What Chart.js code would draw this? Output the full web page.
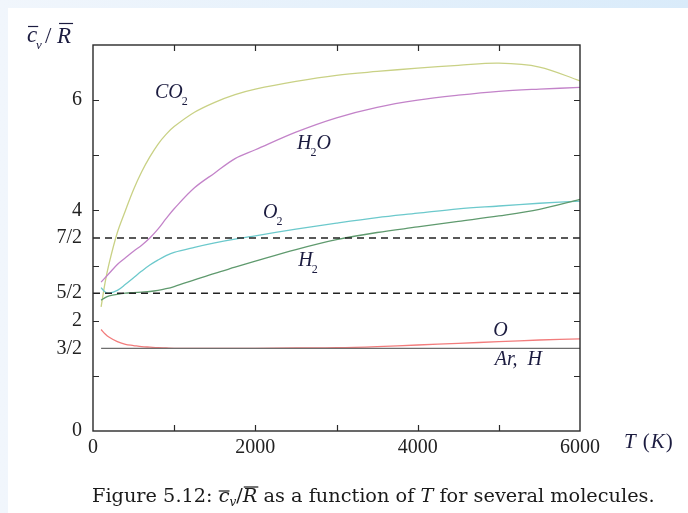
<!DOCTYPE html>
<html>
<head>
<meta charset="utf-8">
<script src="https://cdn.jsdelivr.net/npm/chart.js@4.4.1/dist/chart.umd.min.js"></script>
<style>
  html, body { margin: 0; padding: 0; }
  body {
    width: 688px; height: 513px; overflow: hidden; position: relative;
    background: linear-gradient(to right, #f1f6fc, #d9ebfa);
  }
  #paper { position: absolute; left: 8px; top: 8px; right: 0; bottom: 0; background: #ffffff; }
  #wrap { position: absolute; left: 0; top: 0; width: 688px; height: 513px; }
</style>
</head>
<body>
<div id="paper"></div>
<div id="wrap"><canvas id="chart" width="688" height="513"></canvas></div>
<script>
// temperature grid (K) shared by the molecule curves
const temps = [100, 150, 200, 300, 400, 500, 600, 700, 800, 900, 1000, 1250, 1500, 1750, 2000, 2500, 3000, 3500, 4000, 4500, 5000, 5500, 6000];

// cv/R
const co2   = [2.25, 2.7, 3.05, 3.6, 4.0, 4.38, 4.7, 4.97, 5.2, 5.38, 5.52, 5.78, 5.96, 6.1, 6.2, 6.34, 6.45, 6.52, 6.58, 6.63, 6.67, 6.6, 6.35];
const h2o   = [2.7, 2.78, 2.86, 3.02, 3.14, 3.26, 3.37, 3.5, 3.66, 3.85, 4.03, 4.41, 4.68, 4.94, 5.1, 5.42, 5.68, 5.87, 6.0, 6.09, 6.16, 6.2, 6.23];
const o2    = [2.6, 2.52, 2.5, 2.55, 2.66, 2.78, 2.9, 3.01, 3.1, 3.18, 3.24, 3.33, 3.41, 3.48, 3.54, 3.66, 3.77, 3.87, 3.95, 4.03, 4.08, 4.13, 4.17];
const h2    = [2.37, 2.42, 2.45, 2.48, 2.5, 2.51, 2.52, 2.53, 2.55, 2.58, 2.62, 2.74, 2.86, 2.97, 3.08, 3.29, 3.47, 3.6, 3.7, 3.8, 3.9, 4.02, 4.2];
const oAtom = [1.84, 1.76, 1.7, 1.62, 1.57, 1.55, 1.53, 1.52, 1.51, 1.505, 1.5, 1.5, 1.5, 1.5, 1.5, 1.505, 1.51, 1.53, 1.56, 1.59, 1.62, 1.65, 1.67];

// monatomic Ar, H: constant 3/2
const arHTemps = [100, 6000];
const arH = [1.5, 1.5];

// classical reference levels 5/2 and 7/2 (dashed)
const refTemps = [0, 6000];
const refLevels = [2.5, 3.5];

// axis ticks
const yTickValues = [0, 1.5, 2, 2.5, 3.5, 4, 6];
const yTickLabels = ['0', '3/2', '2', '5/2', '7/2', '4', '6'];
const xTickValues = [0, 2000, 4000, 6000];

// curve labels: [main text, subscript, rest, T, value]
const curveLabels = [
    ['CO', '2', '', 764, 6.03],
    ['H', '2', 'O', 2513, 5.12],
    ['O', '2', '', 2094, 3.87],
    ['H', '2', '', 2530, 2.99],
    ['O', '', '', 4930, 1.73],
    ['Ar,  H', '', '', 4950, 1.2]
];

const pts = (xs, ys) => xs.map((x, i) => ({ x: x, y: ys[i] }));

function curve(data, color) {
    return {
        data: data,
        borderColor: color,
        borderWidth: 1.3,
        pointRadius: 0,
        tension: 0.35,
        fill: false
    };
}

const serif = '"Liberation Serif", "DejaVu Serif", serif';
const wideSerif = '"DejaVu Serif", serif';

// put a piece of text, with an optional overline; returns its width
function put(ctx, t, font, x, y, barY, barPad) {
    ctx.font = font;
    ctx.fillText(t, x, y);
    const w = ctx.measureText(t).width;
    if (barY !== undefined) {
        ctx.save();
        ctx.strokeStyle = ctx.fillStyle;
        ctx.lineWidth = 1.2;
        ctx.beginPath();
        ctx.moveTo(x + (barPad || 0), barY);
        ctx.lineTo(x + w + (barPad || 0), barY);
        ctx.stroke();
        ctx.restore();
    }
    return w;
}

const framePlugin = {
    id: 'frame',
    afterDraw(chart) {
        const ctx = chart.ctx;
        const a = chart.chartArea;
        const xs = chart.scales.x;
        const ys = chart.scales.y;
        ctx.save();
        ctx.strokeStyle = '#2a2a2a';
        ctx.lineWidth = 1.4;
        ctx.strokeRect(a.left, a.top, a.right - a.left, a.bottom - a.top);
        // inward tick marks, mirrored on all sides
        ctx.lineWidth = 1.2;
        ctx.beginPath();
        for (let v = 1; v < 7; v++) {
            const py = Math.round(ys.getPixelForValue(v)) + 0.5;
            ctx.moveTo(a.left, py); ctx.lineTo(a.left + 6, py);
            ctx.moveTo(a.right, py); ctx.lineTo(a.right - 6, py);
        }
        for (let t = 1000; t < 6000; t += 1000) {
            const px = Math.round(xs.getPixelForValue(t)) + 0.5;
            ctx.moveTo(px, a.bottom); ctx.lineTo(px, a.bottom - 6);
            ctx.moveTo(px, a.top); ctx.lineTo(px, a.top + 6);
        }
        ctx.stroke();

        ctx.textAlign = 'left';
        ctx.textBaseline = 'alphabetic';

        // curve labels
        ctx.fillStyle = '#1c1c40';
        curveLabels.forEach(([main, sub, rest, t, v]) => {
            let x = xs.getPixelForValue(t);
            const y = ys.getPixelForValue(v);
            x += put(ctx, main, 'italic 20px ' + serif, x, y);
            if (sub) x += put(ctx, sub, '12px ' + serif, x - 1, y + 7) - 1;
            if (rest) put(ctx, rest, 'italic 20px ' + serif, x, y);
        });

        // y axis title  c̄v / R̄
        put(ctx, 'c', 'italic 23px ' + serif, 27, 42, 26.5, 1);
        put(ctx, 'v', 'italic 13px ' + serif, 36, 49);
        put(ctx, '/', '23px ' + serif, 45, 43);
        put(ctx, 'R', 'italic 23px ' + serif, 57, 43, 23.5, 2);

        // x axis title  T (K)
        let tx = 624;
        tx += put(ctx, 'T', 'italic 21px ' + serif, tx, 448) + 7;
        tx += put(ctx, '(', '21px ' + serif, tx, 448) + 1;
        tx += put(ctx, 'K', 'italic 21px ' + serif, tx, 448) + 1;
        put(ctx, ')', '21px ' + serif, tx, 448);

        // caption, fitted to the width it has in the figure
        ctx.fillStyle = '#1a1a1a';
        const runs = [
            ['Figure 5.12: ', ''],
            ['c', 'i', 'bar'],
            ['v', 's'],
            ['/', ''],
            ['R', 'i', 'bar'],
            [' as a function of ', ''],
            ['T', 'i'],
            [' for several molecules.', '']
        ];
        const fontFor = (kind, size) => kind === 'i' ? 'italic ' + size + 'px ' + wideSerif
            : kind === 's' ? 'italic ' + (size * 0.62) + 'px ' + wideSerif : size + 'px ' + wideSerif;
        let total = 0;
        runs.forEach(r => { ctx.font = fontFor(r[1], 18); total += ctx.measureText(r[0]).width; });
        const size = 18 * 563 / total;
        let cx = 92;
        const base = 502;
        runs.forEach(r => {
            const f = fontFor(r[1], size);
            const dy = r[1] === 's' ? 4 : 0;
            cx += put(ctx, r[0], f, cx, base + dy, r[2] ? base - (r[0] === 'R' ? 15 : 11) : undefined, r[0] === 'R' ? 1 : 0);
        });
        ctx.restore();
    }
};

const refLine = level => ({
    data: pts(refTemps, refTemps.map(() => level)),
    borderColor: '#222222',
    borderWidth: 1.5,
    borderDash: [7, 5],
    pointRadius: 0,
    fill: false
});

new Chart(document.getElementById('chart').getContext('2d'), {
    type: 'line',
    data: {
        datasets: [
            refLine(refLevels[0]),
            refLine(refLevels[1]),
            curve(pts(arHTemps, arH), '#6e6e6e'),
            curve(pts(temps, oAtom), '#f27c7c'),
            curve(pts(temps, h2), '#5f9a6e'),
            curve(pts(temps, o2), '#6cc9cc'),
            curve(pts(temps, h2o), '#c383c9'),
            curve(pts(temps, co2), '#c9d185')
        ]
    },
    options: {
        responsive: false,
        animation: false,
        devicePixelRatio: 1,
        layout: { padding: { left: 0, top: 45, right: 108, bottom: 0 } },
        plugins: { legend: { display: false }, tooltip: { enabled: false } },
        scales: {
            x: {
                type: 'linear',
                min: 0,
                max: 6000,
                afterFit: s => { s.height = 82; },
                afterBuildTicks: s => { s.ticks = xTickValues.map(v => ({ value: v })); },
                grid: { display: false, drawTicks: false },
                border: { display: false },
                ticks: {
                    color: '#222',
                    padding: 5,
                    maxRotation: 0,
                    font: { family: serif, size: 20 },
                    callback: v => String(v)
                }
            },
            y: {
                min: 0,
                max: 7,
                afterFit: s => { s.width = 93; },
                afterBuildTicks: s => { s.ticks = yTickValues.map(v => ({ value: v })); },
                grid: { display: false, drawTicks: false },
                border: { display: false },
                ticks: {
                    color: '#222',
                    padding: 11,
                    autoSkip: false,
                    font: { family: serif, size: 20 },
                    callback: v => yTickLabels[yTickValues.indexOf(v)]
                }
            }
        }
    },
    plugins: [framePlugin]
});
</script>
</body>
</html>
